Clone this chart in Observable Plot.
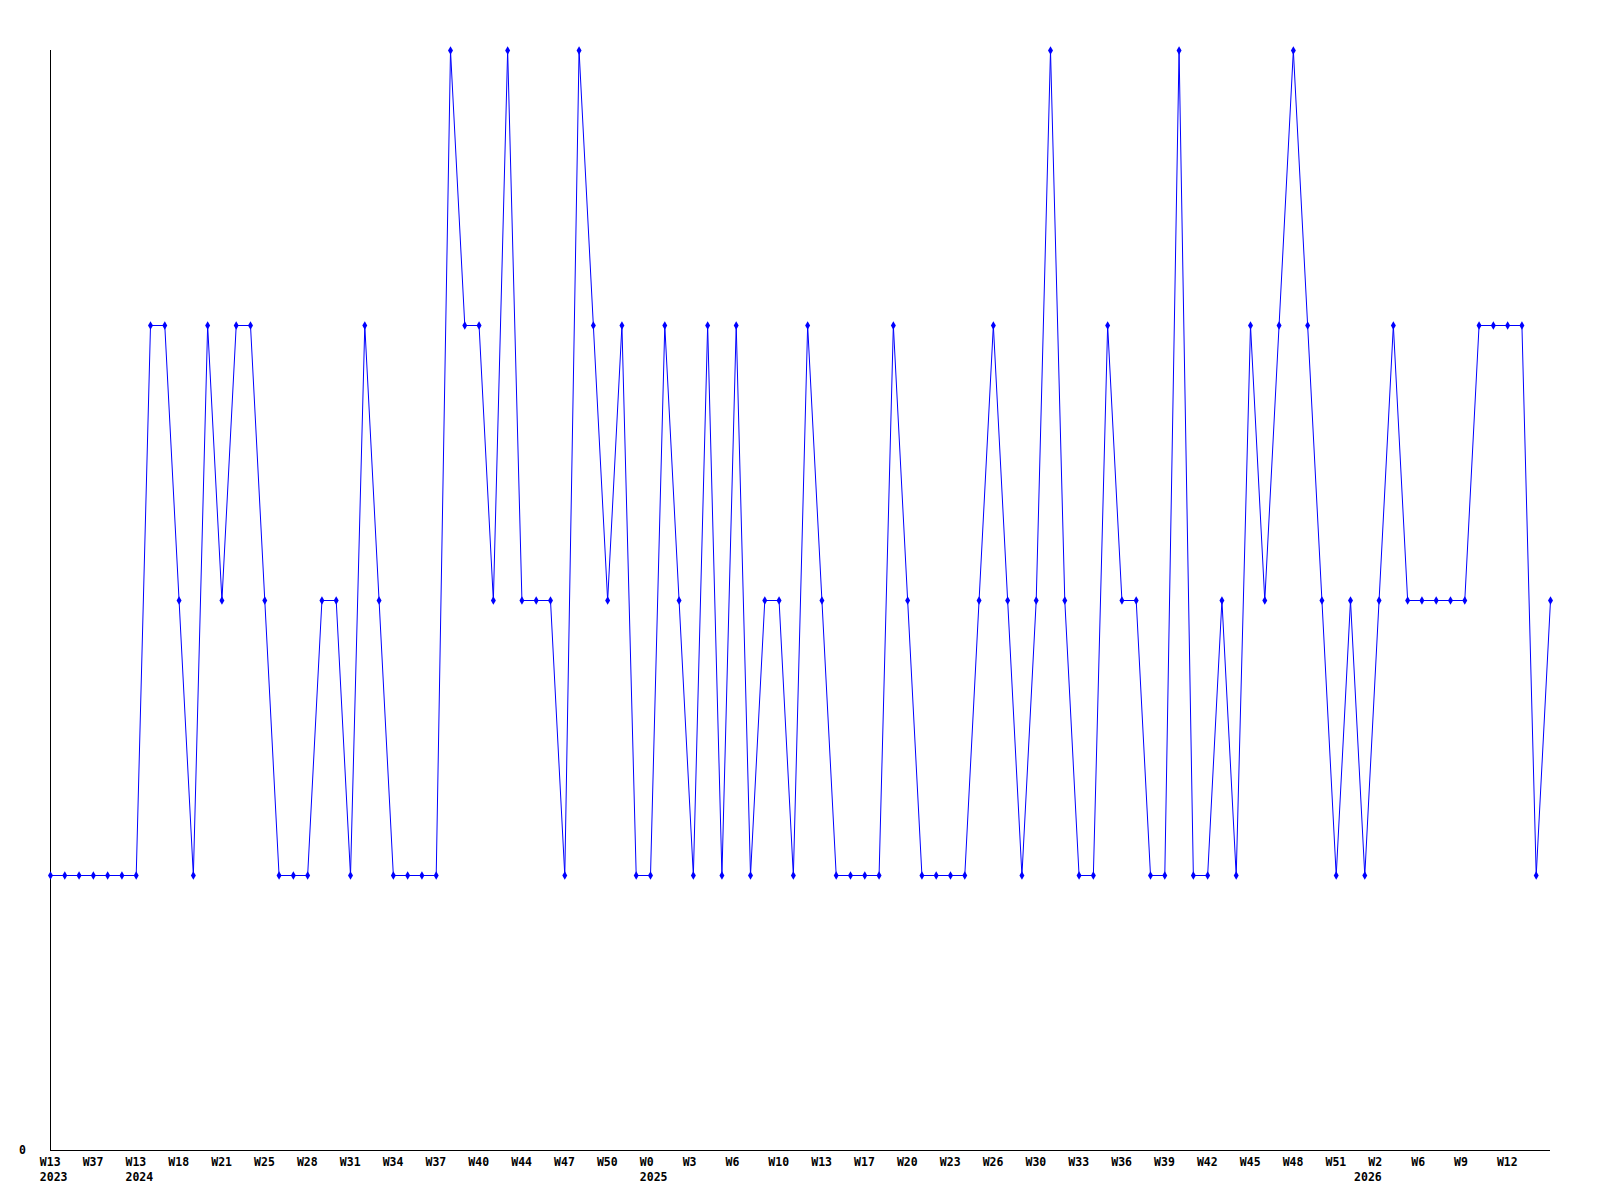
<!DOCTYPE html>
<html>
<head>
<meta charset="utf-8">
<script src="https://cdn.jsdelivr.net/npm/d3@7"></script>
<script src="https://cdn.jsdelivr.net/npm/@observablehq/plot@0.6"></script>
<style>
  html, body { margin: 0; padding: 0; background: #ffffff; }
  #chart { width: 1600px; height: 1200px; }
</style>
</head>
<body>
<div id="chart"></div>
<script>
// Weekly series values (one per week, index = position on the x axis)
const values = [
  1, 1, 1, 1, 1, 1, 1, 3, 3, 2,
  1, 3, 2, 3, 3, 2, 1, 1, 1, 2,
  2, 1, 3, 2, 1, 1, 1, 1, 4, 3,
  3, 2, 4, 2, 2, 2, 1, 4, 3, 2,
  3, 1, 1, 3, 2, 1, 3, 1, 3, 1,
  2, 2, 1, 3, 2, 1, 1, 1, 1, 3,
  2, 1, 1, 1, 1, 2, 3, 2, 1, 2,
  4, 2, 1, 1, 3, 2, 2, 1, 1, 4,
  1, 1, 2, 1, 3, 2, 3, 4, 3, 2,
  1, 2, 1, 2, 3, 2, 2, 2, 2, 2,
  3, 3, 3, 3, 1, 2
];

// Week tick labels (every third point)
const weekTickIndex = [0, 3, 6, 9, 12, 15, 18, 21, 24, 27, 30, 33, 36, 39, 42, 45, 48, 51,
  54, 57, 60, 63, 66, 69, 72, 75, 78, 81, 84, 87, 90, 93, 96, 99, 102];
const weekTickLabels = ["W13", "W37", "W13", "W18", "W21", "W25", "W28", "W31", "W34", "W37",
  "W40", "W44", "W47", "W50", "W0", "W3", "W6", "W10", "W13", "W17", "W20", "W23", "W26",
  "W30", "W33", "W36", "W39", "W42", "W45", "W48", "W51", "W2", "W6", "W9", "W12"];

// Year labels
const yearTickIndex = [0, 6, 42, 92];
const yearTickLabels = ["2023", "2024", "2025", "2026"];

const data = values.map((v, i) => ({i, v}));
const weekMap = new Map(weekTickIndex.map((d, k) => [d, weekTickLabels[k]]));
const yearMap = new Map(yearTickIndex.map((d, k) => [d, yearTickLabels[k]]));

const chart = Plot.plot({
  width: 1600,
  height: 1200,
  marginLeft: 50,
  marginRight: 50,
  marginTop: 50,
  marginBottom: 50,
  style: {
    fontFamily: "'DejaVu Sans Mono', monospace",
    fontSize: "11.5px",
    fontWeight: "bold",
    color: "#000000",
    background: "#ffffff"
  },
  x: {domain: [0, values.length - 1], axis: null, label: null},
  y: {domain: [0, 4], axis: null, label: null},
  marks: [
    Plot.axisX({
      ticks: weekTickIndex,
      tickFormat: d => weekMap.get(d),
      tickSize: 0,
      tickPadding: 7.8,
      textAnchor: "start",
      dx: -10.7,
      label: null,
      fill: "#000000"
    }),
    Plot.axisX({
      ticks: yearTickIndex,
      tickFormat: d => yearMap.get(d),
      tickSize: 0,
      tickPadding: 22.8,
      textAnchor: "start",
      dx: -10.7,
      label: null,
      fill: "#000000"
    }),
    Plot.axisY({
      ticks: [0],
      tickFormat: d => String(d),
      tickSize: 0,
      tickPadding: 24.5,
      label: null,
      fill: "#000000"
    }),
    Plot.ruleX([0], {stroke: "#000000", strokeWidth: 1}),
    Plot.ruleY([0], {stroke: "#000000", strokeWidth: 1}),
    Plot.line(data, {x: "i", y: "v", stroke: "#0000ff", strokeWidth: 1}),
    Plot.dot(data, {x: "i", y: "v", symbol: "diamond", r: 2.6, fill: "#0000ff", stroke: "none"})
  ]
});

document.getElementById("chart").appendChild(chart);
</script>
</body>
</html>
